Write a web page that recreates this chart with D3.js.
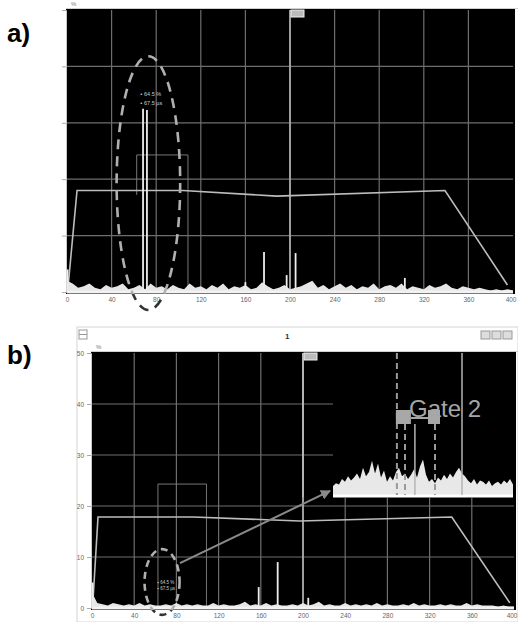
<!DOCTYPE html>
<html>
<head>
<meta charset="utf-8">
<script src="https://cdn.jsdelivr.net/npm/d3@7"></script>
<style>
  body { margin: 0; background: #fff; }
  svg { display: block; font-family: "Liberation Sans", Arial, sans-serif; }
</style>
</head>
<body>
<svg id="chart"></svg>
<script>
// ---- data ----
const xTicks = [0, 40, 80, 120, 160, 200, 240, 280, 320, 360, 400];
const yTicks = [0, 20, 40, 60, 80, 100];
const yLabelsB = ["0", "10", "20", "30", "40", "50"];

// DAC curve (x in µs-ish units, y in % screen height)
const dacA = [[0.5, 0], [9, 36], [104, 36], [188, 34], [339, 36], [395, 2.5]];
const dacB = [[0.5, 0], [5.7, 35.7], [96, 35.7], [197, 34.1], [341, 35.7], [396, 2]];

// grass / noise along the baseline, evenly spaced over 0..400
const noiseA = [4,3,1.5,2,3,1.5,1,2.5,1.5,2,3,1,1.5,2.5,1,3,1.5,2,1,2.5,1.5,1,3,1.5,2,1,2.5,1.5,3,1,
                2,1.5,2.5,1,1.5,3.5,2,1,1.5,2.5,1,1.5,2,3,4,1.5,2.5,1,2,3,1.5,2.5,1,2,1.5,3,1,2,2.5,1.5,
                3,1,2,1.5,1,2.5,1.5,2,3,1.5,1,2,1.5,1,1.5,1,0.5,1,0.5,1,0.5];
const noiseB = [6,2,1.5,1,2,1.5,1,1.5,1,2,1,1.5,1,1,1.5,1,2,1,1.5,1,1.5,1,1,2,1,1.5,1,1,1.5,2.5,
                1,1.5,1,2,1,1.5,1,1,1.5,1,2,1,1.5,2.5,1,1.5,1,1,2,1,1.5,1,1.5,1,2,1,1.5,1,1,1.5,
                1,2,1,1.5,1,1,1.5,1,1.5,1,1,2,1,1.5,1,1,1,0.5,1,0.5,0.5];

// echoes
const spikesA = [
  {x: 0.5, h: 8}, {x: 68.2, h: 65}, {x: 71.7, h: 64.5}, {x: 160, h: 3.5},
  {x: 176.7, h: 14.2}, {x: 197, h: 6}, {x: 205, h: 13.8}, {x: 303, h: 5}
];
const spikesB = [{x: 0.5, h: 10}, {x: 158, h: 8.2}, {x: 176, h: 18}, {x: 205, h: 4}];

// gate 1 and the cursor
const gate = {x0: 62.5, x1: 108.5, level: 48.6};
const cursorX = 200;
const peakLabels = ["\u25aa 64.5 %", "\u25aa 67.5 \u00b5s"];

// zoomed inset in b), 61 samples, height in % of inset
const insetValues = [5,7,6,10,8,12,9,11,14,10,18,12,15,23,14,21,11,16,8,12,9,15,18,12,14,10,13,17,11,19,
                     24,13,8,10,7,11,9,13,10,14,11,15,18,14,12,9,7,10,6,9,8,6,9,5,7,8,6,9,7,10,6];
const gate2Dashed = [21.3, 24, 34];
const gate2Solid = [27.3, 43];

// ---- drawing ----
const svg = d3.select('#chart').attr('width', 518).attr('height', 622);
svg.append('rect').attr('width', 518).attr('height', 622).attr('fill', '#fff');

const defs = svg.append('defs');
defs.append('marker').attr('id', 'arrow')
  .attr('viewBox', '0 0 10 10').attr('refX', 9).attr('refY', 5)
  .attr('markerWidth', 5).attr('markerHeight', 5).attr('orient', 'auto')
  .append('path').attr('d', 'M0,0 L10,5 L0,10 z').attr('fill', '#8a8a8a');

let drawPanel = (p) => {
  const x = d3.scaleLinear().domain([0, 400]).range([p.left, p.right]);
  const y = d3.scaleLinear().domain([0, 100]).range([p.bottom, p.top]);
  const g = svg.append('g');

  // black screen
  g.append('rect')
    .attr('x', p.left - 1).attr('y', p.top - 1)
    .attr('width', p.right - p.left + 3).attr('height', p.bottom - p.top + 3)
    .attr('fill', '#000');
  g.append('line')
    .attr('x1', p.left - 1).attr('x2', 518).attr('y1', p.top - 1.5).attr('y2', p.top - 1.5)
    .attr('stroke', '#cfcfcf').attr('stroke-width', 1);

  // grid
  g.selectAll('.vg').data(xTicks.slice(1, -1)).join('line')
    .attr('x1', d => x(d)).attr('x2', d => x(d))
    .attr('y1', p.top).attr('y2', p.bottom)
    .attr('stroke', '#6e6e6e').attr('stroke-width', 1.2);
  g.selectAll('.hg').data(yTicks.slice(1, -1)).join('line')
    .attr('x1', p.left).attr('x2', p.right)
    .attr('y1', d => y(d)).attr('y2', d => y(d))
    .attr('stroke', '#6e6e6e').attr('stroke-width', 1.2);

  // x axis labels
  const xAxis = g.append('g').attr('transform', `translate(0,${p.bottom + 5})`)
    .call(d3.axisBottom(x).tickValues(xTicks).tickSize(0).tickPadding(0));
  xAxis.select('.domain').remove();
  xAxis.selectAll('text').attr('font-size', 6.5).attr('fill', '#666').attr('font-family', 'Liberation Sans, Arial');
  // keep the last label inside the window
  xAxis.selectAll('text').filter(d => d === 400).attr('text-anchor', 'end').attr('dx', 3);

  // y axis ticks
  const yAxis = g.append('g').attr('transform', `translate(${p.left - 1},0)`)
    .call(d3.axisLeft(y).tickValues(yTicks).tickSize(4)
      .tickFormat((d, i) => p.yLabels ? p.yLabels[i] : ''));
  yAxis.select('.domain').attr('stroke', '#c8c8c8');
  yAxis.selectAll('line').attr('stroke', '#aaa');
  yAxis.selectAll('text').attr('font-size', 6.5).attr('fill', '#666').attr('font-family', 'Liberation Sans, Arial');

  g.append('text').attr('x', p.left + 4).attr('y', p.top - 4)
    .attr('font-size', 6).attr('fill', '#777').text('%');

  p.x = x; p.y = y; p.g = g;
  return p;
}

let drawSignal = (p, noise, spikes, dac, gateFull) => {
  const {x, y, g} = p;
  // gate
  g.append('path')
    .attr('d', `M${x(gate.x0)},${gateFull ? y(0) : y(gate.level) + 40}V${y(gate.level)}H${x(gate.x1)}V${y(0)}`)
    .attr('fill', 'none').attr('stroke', '#777').attr('stroke-width', 1);

  // cursor line + tag
  g.append('line')
    .attr('x1', x(cursorX)).attr('x2', x(cursorX)).attr('y1', p.top).attr('y2', p.bottom)
    .attr('stroke', '#bdbdbd').attr('stroke-width', 1.5);
  g.append('rect')
    .attr('x', x(cursorX) + 1).attr('y', p.top).attr('width', 13).attr('height', 7)
    .attr('fill', '#bbb').attr('stroke', '#eee');

  // DAC curve
  g.append('path').datum(dac)
    .attr('d', d3.line().x(d => x(d[0])).y(d => y(d[1])))
    .attr('fill', 'none').attr('stroke', '#bdbdbd').attr('stroke-width', 1.6);

  // grass
  const step = 400 / (noise.length - 1);
  g.append('path').datum(noise)
    .attr('d', d3.area().x((d, i) => x(i * step)).y0(y(0) + 1).y1(d => y(d)))
    .attr('fill', '#e6e6e6');
  g.append('line')
    .attr('x1', x(0)).attr('x2', x(400)).attr('y1', y(0)).attr('y2', y(0))
    .attr('stroke', '#f2f2f2').attr('stroke-width', 3);

  // echoes
  g.selectAll('.spike').data(spikes).join('line')
    .attr('x1', d => x(d.x)).attr('x2', d => x(d.x))
    .attr('y1', y(0)).attr('y2', d => y(d.h))
    .attr('stroke', '#ededed').attr('stroke-width', 1.8);
}

let drawEllipse = (p, e) => {
  const {x, y, g} = p;
  const id = 'c' + Math.round(p.top);
  defs.append('clipPath').attr('id', id + 'in').append('rect')
    .attr('x', 0).attr('y', p.top).attr('width', 518).attr('height', p.bottom - p.top + 2);
  defs.append('clipPath').attr('id', id + 'out').append('rect')
    .attr('x', 0).attr('y', p.bottom + 2).attr('width', 518).attr('height', 40);
  const rx = x(e.rx) - x(0), ry = y(0) - y(e.ry);
  [['in', '#b0b0b0'], ['out', '#333']].forEach(([k, c]) => {
    g.append('ellipse')
      .attr('cx', x(e.cx)).attr('cy', y(e.cy)).attr('rx', rx).attr('ry', ry)
      .attr('fill', 'none').attr('stroke', c).attr('stroke-width', 2.6)
      .attr('stroke-dasharray', e.dash)
      .attr('clip-path', `url(#${id + k})`);
  });
}

// ---------- panel a ----------
const A = drawPanel({left: 67, right: 513, top: 10, bottom: 292});
drawSignal(A, noiseA, spikesA, dacA, false);
A.g.selectAll('.plab').data(peakLabels).join('text')
  .attr('x', A.x(66)).attr('y', (d, i) => A.y(69.5) + i * 9)
  .attr('font-size', 5.5).attr('fill', '#ccc').text(d => d);
drawEllipse(A, {cx: 73, cy: 38.6, rx: 28.5, ry: 45, dash: '10,7'});

// ---------- panel b ----------
// window chrome
svg.append('rect').attr('x', 77).attr('y', 327).attr('width', 441).attr('height', 295)
  .attr('fill', '#fff').attr('stroke', '#d4d4d4');
svg.append('rect').attr('x', 79).attr('y', 330).attr('width', 8).attr('height', 9)
  .attr('fill', '#fff').attr('stroke', '#999');
svg.append('line').attr('x1', 79).attr('x2', 87).attr('y1', 334.5).attr('y2', 334.5).attr('stroke', '#999');
svg.append('text').attr('x', 285).attr('y', 339).attr('font-size', 8).attr('font-weight', 'bold')
  .attr('fill', '#333').text('1');
svg.selectAll('.winbtn').data([0, 1, 2]).join('rect')
  .attr('x', d => 481 + d * 11).attr('y', 331).attr('width', 9).attr('height', 8)
  .attr('fill', '#ddd').attr('stroke', '#999');

const B = drawPanel({left: 92, right: 514, top: 353, bottom: 608, yLabels: yLabelsB});
drawSignal(B, noiseB, spikesB, dacB, true);

// zoomed inset (covers the upper right of the screen)
const ix = d3.scaleLinear().domain([0, 60]).range([333, 513]);
const iy = d3.scaleLinear().domain([0, 100]).range([493, 353]);
B.g.append('rect').attr('x', 333).attr('y', 353).attr('width', 183).attr('height', 145).attr('fill', '#000');
B.g.append('line').attr('x1', B.x(cursorX)).attr('x2', B.x(cursorX)).attr('y1', 353).attr('y2', 497)
  .attr('stroke', '#bdbdbd').attr('stroke-width', 1.5);
B.g.append('path').datum(insetValues)
  .attr('d', d3.area().x((d, i) => ix(i)).y0(iy(0) + 3).y1(d => iy(d)))
  .attr('fill', '#e8e8e8');
B.g.append('line').attr('x1', ix(0)).attr('x2', ix(60)).attr('y1', 496).attr('y2', 496)
  .attr('stroke', '#fff').attr('stroke-width', 3);
B.g.selectAll('.g2d').data(gate2Dashed).join('line')
  .attr('x1', d => ix(d)).attr('x2', d => ix(d))
  .attr('y1', (d, i) => i === 0 ? 353 : 424).attr('y2', 495)
  .attr('stroke', '#9a9a9a').attr('stroke-width', 2).attr('stroke-dasharray', '6,4');
B.g.selectAll('.g2s').data(gate2Solid).join('line')
  .attr('x1', d => ix(d)).attr('x2', d => ix(d))
  .attr('y1', (d, i) => i === 0 ? 424 : 353).attr('y2', 495)
  .attr('stroke', '#b5b5b5').attr('stroke-width', 1.5);
B.g.append('line').attr('x1', ix(gate2Dashed[0]) + 14).attr('x2', ix(gate2Dashed[2]) - 6)
  .attr('y1', 418).attr('y2', 418).attr('stroke', '#ddd').attr('stroke-width', 1.5);
B.g.append('rect').attr('x', ix(gate2Dashed[0]) - 1).attr('y', 410).attr('width', 15).attr('height', 14)
  .attr('fill', '#a8a8a8');
B.g.append('rect').attr('x', ix(gate2Dashed[2]) - 7).attr('y', 410).attr('width', 12).attr('height', 14)
  .attr('fill', '#a8a8a8');
B.g.append('text').attr('x', 409).attr('y', 417).attr('font-size', 24)
  .attr('fill', '#a6a6a6').text('Gate 2');

// labels near the small echo and the pointer arrow
B.g.selectAll('.plab').data(peakLabels).join('text')
  .attr('x', B.x(62)).attr('y', (d, i) => B.y(9.5) + i * 6)
  .attr('font-size', 4.5).attr('fill', '#ccc').text(d => d);
drawEllipse(B, {cx: 66.4, cy: 10.2, rx: 16.6, ry: 12.9, dash: '7,5'});
B.g.append('line')
  .attr('x1', B.x(83.4)).attr('y1', B.y(17.6)).attr('x2', B.x(225.6)).attr('y2', B.y(45.9))
  .attr('stroke', '#8a8a8a').attr('stroke-width', 2).attr('marker-end', 'url(#arrow)');

// panel letters
svg.append('text').attr('x', 7).attr('y', 42).attr('font-size', 26).attr('font-weight', 'bold')
  .attr('font-family', 'Liberation Sans, Arial').text('a)');
svg.append('text').attr('x', 7).attr('y', 364).attr('font-size', 26).attr('font-weight', 'bold')
  .attr('font-family', 'Liberation Sans, Arial').text('b)');
</script>
</body>
</html>
